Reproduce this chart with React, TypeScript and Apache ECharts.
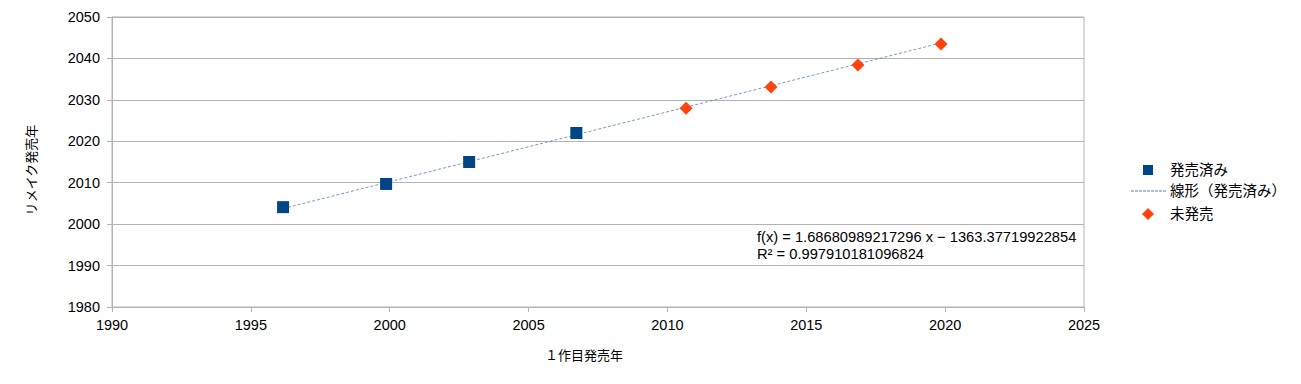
import React, { useEffect, useRef } from "react";
import * as echarts from "echarts";

const releasedX = [1996.16, 1999.87, 2002.86, 2006.72];
const releasedY = [2004.1, 2009.7, 2015.0, 2022.0];
const unreleasedX = [2010.67, 2013.73, 2016.86, 2019.85];
const unreleasedY = [2028.0, 2033.1, 2038.4, 2043.5];
const trendX = [1996.16, 2019.85];
const trendY = [2003.77, 2043.73];
const seriesNames = ["発売済み", "線形（発売済み）", "未発売"];
const equationLines = ["f(x) = 1.68680989217296 x − 1363.37719922854", "R² = 0.997910181096824"];
const xTitle = "１作目発売年";
const yTitle = "リメイク発売年";

const FONT = "'Liberation Sans', 'Noto Sans CJK JP', sans-serif";
const BLUE = "#004586";
const ORANGE = "#ff420e";
const TREND = "#5580b0";

export default function App() {
  const ref = useRef<HTMLDivElement>(null);
  useEffect(() => {
    if (!ref.current) return;
    const chart = echarts.init(ref.current, undefined, { renderer: "svg" });
    const zip = (xs: number[], ys: number[]) => xs.map((x, i) => [x, ys[i]]);
    const lx = 1148;
    const rows = [170, 191, 214];
    chart.setOption({
      animation: false,
      backgroundColor: "#ffffff",
      textStyle: { fontFamily: FONT },
      grid: {
        left: 112,
        top: 17,
        width: 972,
        height: 290,
        show: true,
        borderColor: "#b3b3b3",
        borderWidth: 1,
        backgroundColor: "transparent",
      },
      xAxis: {
        type: "value",
        min: 1990,
        max: 2025,
        interval: 5,
        axisLine: { show: true, lineStyle: { color: "#b3b3b3" } },
        axisTick: { show: true, length: 5, lineStyle: { color: "#b3b3b3" } },
        axisLabel: {
          color: "#000",
          fontSize: 14.5,
          margin: 11,
          fontFamily: FONT,
          formatter: (v: number) => String(v),
        },
        splitLine: { show: false },
      },
      yAxis: {
        type: "value",
        min: 1980,
        max: 2050,
        interval: 10,
        axisLine: { show: true, lineStyle: { color: "#b3b3b3" } },
        axisTick: { show: true, length: 5, lineStyle: { color: "#b3b3b3" } },
        axisLabel: {
          color: "#000",
          fontSize: 14.5,
          margin: 12,
          fontFamily: FONT,
          formatter: (v: number) => String(v),
        },
        splitLine: { show: true, lineStyle: { color: "#b3b3b3", width: 1 } },
      },
      series: [
        {
          name: seriesNames[0],
          type: "scatter",
          symbol: "rect",
          symbolSize: 12,
          itemStyle: { color: BLUE, opacity: 1 },
          data: zip(releasedX, releasedY),
          z: 3,
        },
        {
          name: seriesNames[1],
          type: "line",
          symbol: "none",
          lineStyle: { color: TREND, width: 0.8, type: [3, 2] },
          itemStyle: { color: TREND },
          data: zip(trendX, trendY),
          z: 2,
        },
        {
          name: seriesNames[2],
          type: "scatter",
          symbol: "diamond",
          symbolSize: 13,
          itemStyle: { color: ORANGE, opacity: 1 },
          data: zip(unreleasedX, unreleasedY),
          z: 3,
        },
      ],
      graphic: [
        {
          type: "text",
          left: 757,
          top: 228,
          style: {
            text: equationLines.join("\n"),
            fill: "#000",
            font: `14.7px ${FONT}`,
            lineHeight: 17,
          },
        },
        {
          type: "text",
          x: 584,
          y: 355,
          style: {
            text: xTitle,
            fill: "#000",
            font: `13px ${FONT}`,
            align: "center",
            verticalAlign: "middle",
          },
        },
        {
          type: "text",
          x: 31,
          y: 170,
          rotation: Math.PI / 2,
          style: {
            text: yTitle,
            fill: "#000",
            font: `13px ${FONT}`,
            align: "center",
            verticalAlign: "middle",
          },
        },
        // legend
        {
          type: "rect",
          shape: { x: lx - 5, y: rows[0] - 5, width: 10, height: 10 },
          style: { fill: BLUE },
        },
        {
          type: "line",
          shape: { x1: 1131, y1: rows[1], x2: 1166, y2: rows[1] },
          style: { stroke: TREND, lineWidth: 1, lineDash: [3, 1] },
        },
        {
          type: "polygon",
          shape: {
            points: [
              [lx, rows[2] - 6],
              [lx + 6, rows[2]],
              [lx, rows[2] + 6],
              [lx - 6, rows[2]],
            ],
          },
          style: { fill: ORANGE },
        },
        ...seriesNames.map((n, i) => ({
          type: "text",
          x: 1170,
          y: rows[i],
          style: {
            text: n,
            fill: "#000",
            font: `14.5px ${FONT}`,
            verticalAlign: "middle",
          },
        })),
      ],
    });
    return () => chart.dispose();
  }, []);
  return (
    <div
      ref={ref}
      style={{ position: "fixed", left: 0, top: 0, width: 1301, height: 384 }}
    />
  );
}
